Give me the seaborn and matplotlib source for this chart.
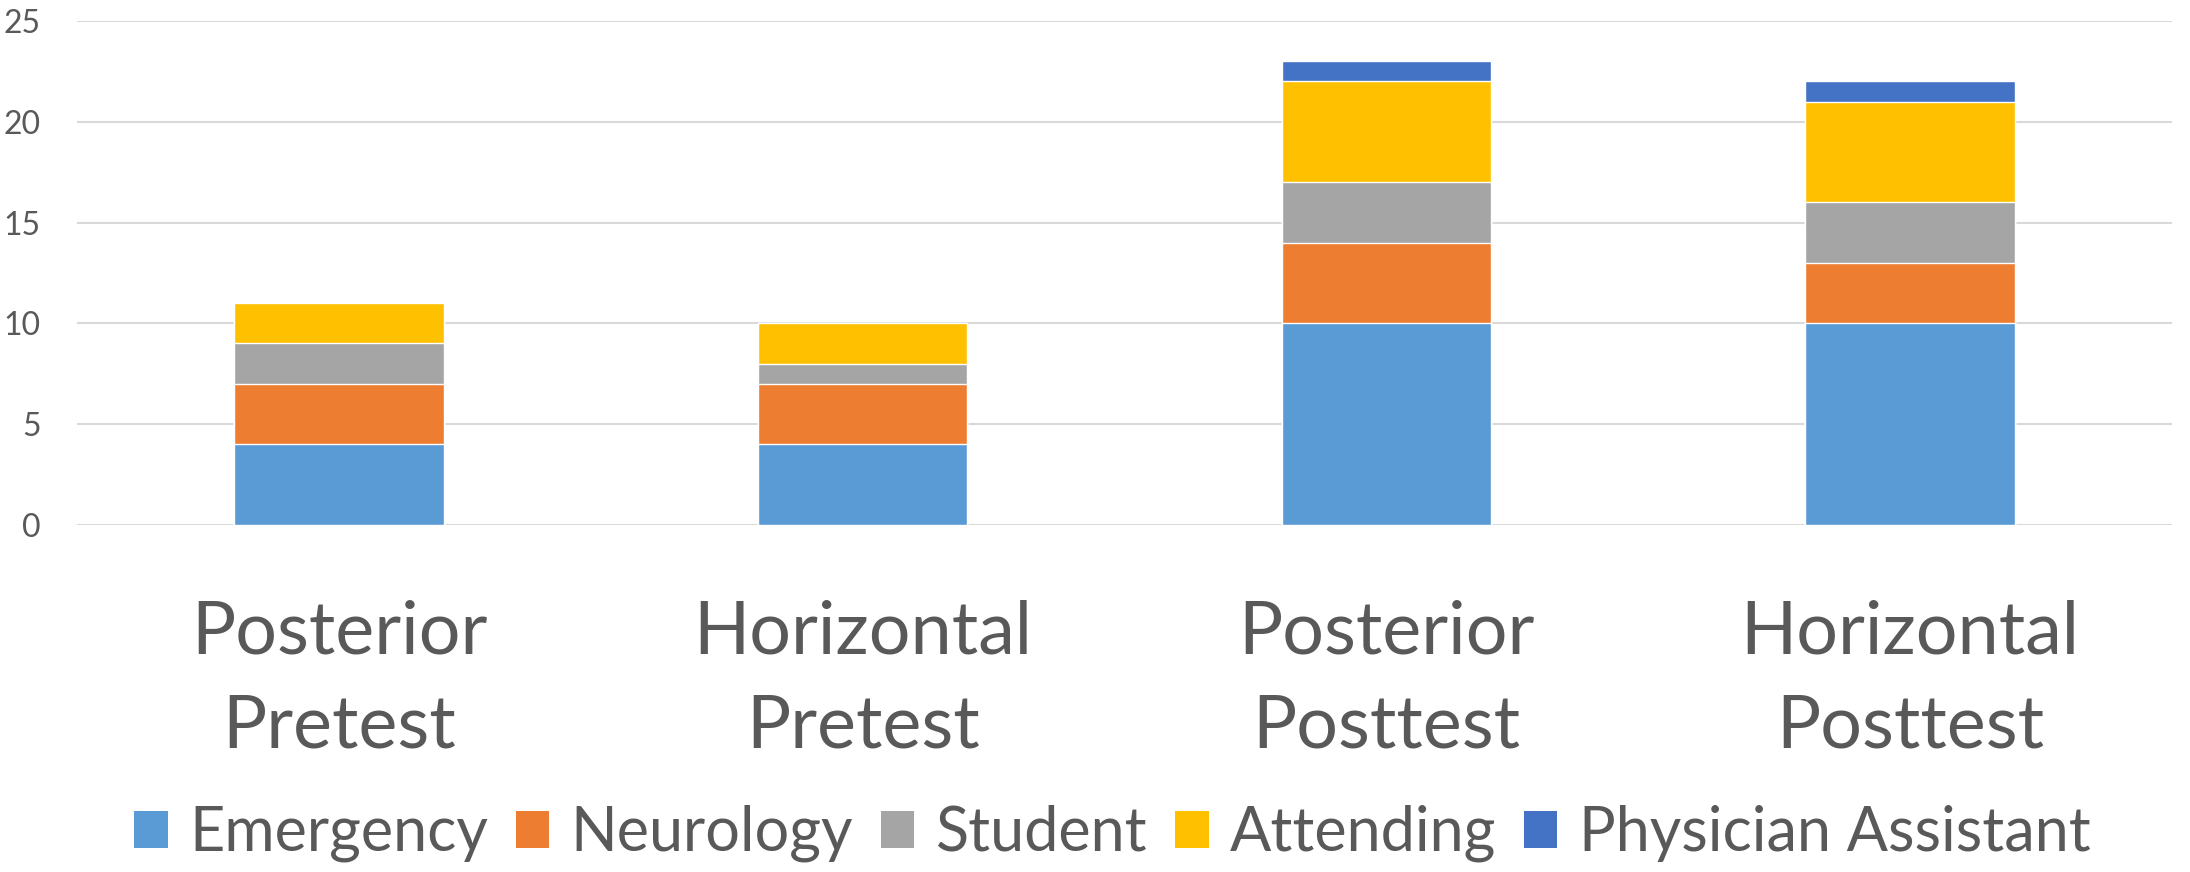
import pandas as pd
import matplotlib.pyplot as plt
import seaborn as sns
from matplotlib.patches import Patch

groups = ["Posterior\nPretest", "Horizontal\nPretest", "Posterior\nPosttest", "Horizontal\nPosttest"]
specialties = ["Emergency", "Neurology", "Student", "Attending", "Physician Assistant"]
emergency = [4, 4, 10, 10]
neurology = [3, 3, 4, 3]
student = [2, 1, 3, 3]
attending = [2, 2, 5, 5]
physician_assistant = [0, 0, 1, 1]
colors = ["#5B9BD5", "#ED7D31", "#A5A5A5", "#FFC000", "#4472C4"]

df = pd.DataFrame({"Group": groups, "Emergency": emergency, "Neurology": neurology,
                   "Student": student, "Attending": attending,
                   "Physician Assistant": physician_assistant})
# stacked heights: draw cumulative totals from the top layer down
cum = df[specialties].cumsum(axis=1)
cum["Group"] = df["Group"]

sns.set_style("white")
plt.rcParams['font.family'] = ['Lato', 'DejaVu Sans']
text_color = "#595959"

fig = plt.figure(figsize=(21.9, 8.72), dpi=100)
ax = fig.add_axes([0.0352, 0.398, 0.9566, 0.578])

for name, col in reversed(list(zip(specialties, colors))):
    sns.barplot(data=cum, x="Group", y=name, color=col, width=0.4, ax=ax,
                edgecolor="white", linewidth=1, saturation=1, zorder=3)

ax.set_ylim(0, 25)
ax.set_yticks([0, 5, 10, 15, 20, 25])
ax.yaxis.grid(True, color="#D9D9D9", linewidth=1.5, zorder=0)
ax.set_axisbelow(True)
for s in ax.spines.values():
    s.set_visible(False)
ax.set_xlabel("")
ax.set_ylabel("")
ax.tick_params(axis="y", length=0, pad=26, labelsize=23, labelcolor=text_color)
ax.tick_params(axis="x", length=0, pad=54, labelsize=53, labelcolor=text_color)
for lab in ax.get_xticklabels():
    lab.set_linespacing(1.5)

handles = [Patch(facecolor=c, edgecolor="none") for c in colors]
fig.legend(handles, specialties, loc="center", bbox_to_anchor=(0.508, 0.044), ncol=5,
           frameon=False, fontsize=44, handlelength=0.55, handleheight=0.55,
           handletextpad=0.35, columnspacing=0.45, labelcolor=text_color)

plt.savefig("out.png", dpi=100)
